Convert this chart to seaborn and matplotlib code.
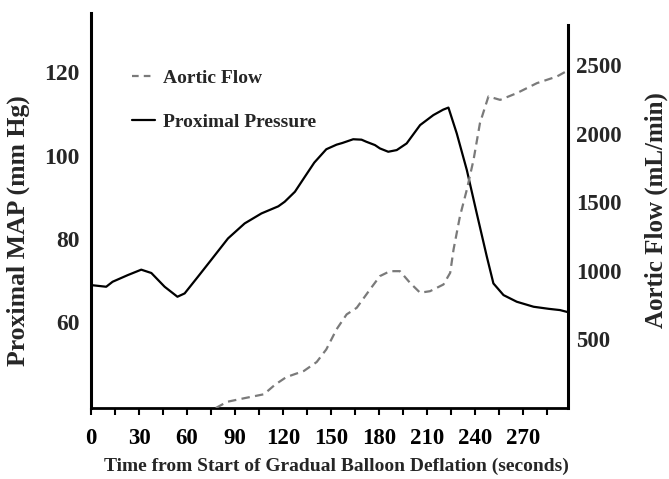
import numpy as np
import pandas as pd
import matplotlib
matplotlib.use("Agg")
import matplotlib.pyplot as plt
import seaborn as sns
from matplotlib.lines import Line2D

# ---- data ----
pressure_time = [0, 9.5, 13.5, 23, 31.4, 37.7, 46, 54, 58.5, 66.8, 75, 85.6, 96, 106.5,
                 117, 121, 127.4, 133.6, 139.5, 147, 153.4, 157, 163.8, 169, 172, 177.4,
                 180.5, 185.7, 191, 197.2, 205.6, 213.9, 220, 223.3, 228.5, 234.8, 241,
                 247.3, 251.4, 257.7, 266, 276.5, 286, 293, 298]
pressure_map = [68.9, 68.5, 69.7, 71.3, 72.6, 71.8, 68.5, 66.1, 66.9, 70.9, 74.9, 80.1, 83.7,
                86.1, 87.8, 88.9, 91.3, 94.9, 98.3, 101.5, 102.6, 103.0, 103.9, 103.8,
                103.3, 102.5, 101.7, 100.9, 101.3, 102.9, 107.3, 109.7, 111.0, 111.5,
                105.3, 96.5, 86.1, 75.7, 69.3, 66.5, 64.9, 63.7, 63.2, 62.9, 62.4]

flow_time = [78, 85, 96, 108, 115, 122, 133, 141, 147, 153.4, 159.7, 166, 174.3, 180.5,
             186.8, 193, 199.3, 205.6, 211.8, 220.2, 224.4, 226.5, 230.5, 234.8, 239,
             243, 248.3, 255.6, 266, 278.6, 291, 298]
flow_ml = [0, 45, 72, 100, 170, 225, 270, 335, 427, 573, 682, 730, 864, 961, 997, 997,
           912, 840, 851, 900, 985, 1155, 1397, 1591, 1809, 2076, 2270, 2245, 2294, 2367,
           2415, 2460]

x_ticks_major = list(range(0, 271, 30))
x_ticks_minor = list(range(0, 286, 15))
left_ticks = [60, 80, 100, 120]
right_ticks = [500, 1000, 1500, 2000, 2500]

df_p = pd.DataFrame({"t": pressure_time, "v": pressure_map})
df_f = pd.DataFrame({"t": flow_time, "v": flow_ml})

sns.set_style("white")
plt.rcParams['font.family'] = ['Liberation Serif', 'DejaVu Serif']
plt.rcParams['font.weight'] = 'bold'

fig = plt.figure(figsize=(6.69, 4.79), dpi=100)
ax = fig.add_axes([91 / 669, 1 - 408 / 479, (568 - 91) / 669, (408 - 13) / 479])
ax2 = ax.twinx()

sns.lineplot(data=df_p, x="t", y="v", ax=ax, color="black", linewidth=1.6)
sns.lineplot(data=df_f, x="t", y="v", ax=ax2, color="#7a7a7a", linewidth=1.6)
ax2.lines[0].set_dashes((3.8, 2.4))

ax.set_xlim(0, 298)
ax.set_ylim(39.4, 134.2)
ax2.set_ylim(0, 2878)

for a in (ax, ax2):
    for s in a.spines.values():
        s.set_visible(False)
    a.set_facecolor("none")

ax.spines['left'].set_visible(True)
ax.spines['left'].set_linewidth(2.2)
ax.spines['left'].set_color('black')
ax.spines['bottom'].set_visible(True)
ax.spines['bottom'].set_linewidth(2.0)
ax.spines['bottom'].set_color('black')
ax2.spines['right'].set_visible(True)
ax2.spines['right'].set_linewidth(2.2)
ax2.spines['right'].set_color('black')
ax2.spines['right'].set_bounds(0, 2791)

ax.set_xticks(x_ticks_minor)
ax.set_xticklabels([str(t) if t in x_ticks_major else "" for t in x_ticks_minor])
ax.tick_params(axis='x', direction='out', length=5, width=1.5, colors='black',
               labelsize=16.5, pad=9.5, bottom=True)
ax.set_yticks(left_ticks)
ax.tick_params(axis='y', length=0, labelsize=17, pad=8, left=False)
ax2.set_yticks(right_ticks)
ax2.tick_params(axis='y', length=0, labelsize=16.5, pad=6, right=False)
for lab in ax.get_xticklabels() + ax.get_yticklabels() + ax2.get_yticklabels():
    lab.set_fontweight('bold')

ax.set_xlabel("Time from Start of Gradual Balloon Deflation (seconds)",
              fontsize=14, fontweight='bold')
ax.xaxis.set_label_coords(0.515, -0.125)
ax.set_ylabel("Proximal MAP (mm Hg)", fontsize=18.5, fontweight='bold')
ax.yaxis.set_label_coords(-0.128, 0.448)
ax2.set_ylabel("Aortic Flow (mL/min)", fontsize=18, fontweight='bold', labelpad=16)

handles = [Line2D([], [], color="#7a7a7a", linewidth=1.6, dashes=(3.0, 2.3)),
           Line2D([], [], color="black", linewidth=1.6)]
leg = ax.legend(handles, ["Aortic Flow", "Proximal Pressure"], loc="upper left",
                bbox_to_anchor=(0.086, 0.857), frameon=False,
                handlelength=1.2, handletextpad=0.4, labelspacing=1.35,
                borderpad=0, borderaxespad=0, prop={'weight': 'bold', 'size': 14})

fig.savefig("out.png", dpi=100)
